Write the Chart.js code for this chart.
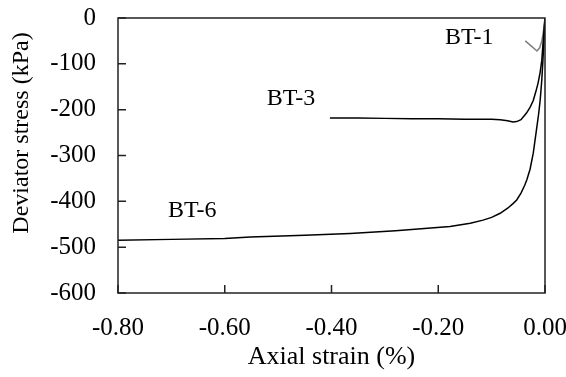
<!DOCTYPE html>
<html>
<head>
<meta charset="utf-8">
<script src="https://cdn.jsdelivr.net/npm/chart.js@4"></script>
<style>
  html, body { margin: 0; padding: 0; background: #fff; }
  canvas { display: block; }
</style>
</head>
<body>
<canvas id="chart" width="566" height="377"></canvas>
<script>
// Axis ticks
const xTicks = [-0.8, -0.6, -0.4, -0.2, 0];
const yTicks = [0, -100, -200, -300, -400, -500, -600];

// BT-6 (strain %, stress kPa)
const bt6Strain = [-0.80, -0.70, -0.60, -0.552, -0.45, -0.365, -0.28, -0.178, -0.14, -0.116, -0.10, -0.084, -0.07, -0.06, -0.053, -0.045, -0.038, -0.034, -0.028, -0.022, -0.016, -0.012, -0.009, -0.006, -0.004, -0.002, 0];
const bt6Stress = [-485, -483, -481, -478, -474, -470, -464, -455, -448, -441, -435, -426, -415, -405, -397, -382, -365, -353, -330, -295, -244, -210, -179, -135, -95, -50, 0];

// BT-3
const bt3Strain = [-0.403, -0.35, -0.30, -0.25, -0.20, -0.15, -0.10, -0.084, -0.07, -0.06, -0.053, -0.045, -0.035, -0.028, -0.022, -0.017, -0.013, -0.009, -0.006, -0.004, -0.002, 0];
const bt3Stress = [-218, -218, -219, -220, -220, -221, -221, -222, -224, -227, -226, -222, -208, -195, -180, -160, -142, -118, -92, -60, -30, 0];

// BT-1
const bt1Strain = [0, -0.003, -0.006, -0.010, -0.015, -0.025, -0.037];
const bt1Stress = [0, -30, -50, -65, -72, -62, -50];

// curve labels
const labelNames = ['BT-1', 'BT-3', 'BT-6'];
const labelStrain = [-0.142, -0.476, -0.661];
const labelStress = [-44, -175, -421];

const toPts = (xs, ys) => xs.map((x, i) => ({ x: x, y: ys[i] }));

// box + inward ticks + curve labels + y title
const framePlugin = {
  id: 'frame',
  afterDraw(chart) {
    const { ctx, chartArea: a, scales } = chart;
    ctx.save();
    ctx.strokeStyle = '#222';
    ctx.lineWidth = 1.5;
    ctx.strokeRect(a.left, a.top, a.right - a.left, a.bottom - a.top);
    ctx.beginPath();
    xTicks.forEach(v => {
      const px = scales.x.getPixelForValue(v);
      ctx.moveTo(px, a.bottom);
      ctx.lineTo(px, a.bottom - 8);
    });
    yTicks.forEach(v => {
      const py = scales.y.getPixelForValue(v);
      ctx.moveTo(a.left, py);
      ctx.lineTo(a.left + 8, py);
    });
    ctx.stroke();

    ctx.fillStyle = '#000';
    ctx.font = '24px "Liberation Serif"';
    ctx.textAlign = 'center';
    ctx.textBaseline = 'middle';
    labelNames.forEach((txt, i) => {
      ctx.fillText(txt, scales.x.getPixelForValue(labelStrain[i]), scales.y.getPixelForValue(labelStress[i]));
    });

    // y axis title
    ctx.translate(22, 133);
    ctx.rotate(-Math.PI / 2);
    ctx.fillText('Deviator stress (kPa)', 0, 0);
    ctx.restore();
  }
};

new Chart(document.getElementById('chart'), {
  type: 'scatter',
  data: {
    datasets: [
      { label: 'BT-6', data: toPts(bt6Strain, bt6Stress), borderColor: '#000', borderWidth: 1.5 },
      { label: 'BT-3', data: toPts(bt3Strain, bt3Stress), borderColor: '#000', borderWidth: 1.5 },
      { label: 'BT-1', data: toPts(bt1Strain, bt1Stress), borderColor: '#808080', borderWidth: 1.5 }
    ]
  },
  options: {
    responsive: false,
    animation: false,
    showLine: true,
    elements: { point: { radius: 0 }, line: { tension: 0 } },
    layout: { padding: { top: 18, right: 21, left: 0, bottom: 0 } },
    plugins: { legend: { display: false }, tooltip: { enabled: false } },
    scales: {
      x: {
        min: -0.8, max: 0,
        afterBuildTicks: s => { s.ticks = xTicks.map(v => ({ value: v })); },
        afterFit: s => { s.height = 84; s.paddingRight = 0; s.paddingLeft = 0; },
        grid: { display: false },
        border: { display: false },
        ticks: {
          padding: 12, color: '#000',
          font: { family: 'Liberation Serif', size: 25 },
          callback: v => v.toFixed(2)
        },
        title: {
          display: true, text: 'Axial strain (%)', color: '#000',
          font: { family: 'Liberation Serif', size: 26 }, padding: { top: 2 }
        }
      },
      y: {
        min: -600, max: 0,
        afterBuildTicks: s => { s.ticks = yTicks.map(v => ({ value: v })); },
        afterFit: s => { s.width = 118; s.paddingTop = 0; s.paddingBottom = 0; },
        grid: { display: false },
        border: { display: false },
        ticks: {
          padding: 14, color: '#000',
          font: { family: 'Liberation Serif', size: 25 },
          callback: v => String(v)
        }
      }
    }
  },
  plugins: [framePlugin]
});
</script>
</body>
</html>
